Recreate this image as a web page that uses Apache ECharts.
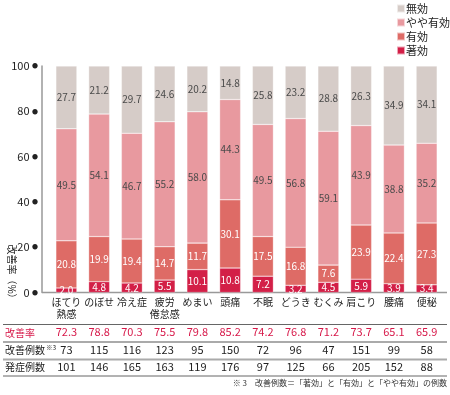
<!DOCTYPE html>
<html><head><meta charset="utf-8">
<script src="https://cdn.jsdelivr.net/npm/echarts@6/dist/echarts.min.js"></script>
<style>html,body{margin:0;padding:0;background:#fff}#c{width:450px;height:395px}</style>
</head><body><div id="c"></div>
<script>
const categories = ['ほてり\n熱感','のぼせ','冷え症','疲労\n倦怠感','めまい','頭痛','不眠','どうき','むくみ','肩こり','腰痛','便秘'];
const chokou = [2.0,4.8,4.2,5.5,10.1,10.8,7.2,3.2,4.5,5.9,3.9,3.4];
const yuukou = [20.8,19.9,19.4,14.7,11.7,30.1,17.5,16.8,7.6,23.9,22.4,27.3];
const yayaYuukou = [49.5,54.1,46.7,55.2,58.0,44.3,49.5,56.8,59.1,43.9,38.8,35.2];
const mukou = [27.7,21.2,29.7,24.6,20.2,14.8,25.8,23.2,28.8,26.3,34.9,34.1];
const kaizenRitsu = ['72.3','78.8','70.3','75.5','79.8','85.2','74.2','76.8','71.2','73.7','65.1','65.9'];
const kaizenCount = [73,115,116,123,95,150,72,96,47,151,99,58];
const hasshoCount = [101,146,165,163,119,176,97,125,66,205,152,88];
const seriesNames = ['著効','有効','やや有効','無効'];
const legendOrder = ['無効','やや有効','有効','著効'];
const rowLabels = ['改善率','改善例数{s|※3}','発症例数'];
const footnote = '※ 3　改善例数＝「著効」と「有効」と「やや有効」の例数';
const yName = '改善率（%）';

const FONT = "'Noto Sans CJK JP', 'Noto Sans', sans-serif";
const colors = ['#d31f47','#de6b66','#e8999f','#d6ccc8'];
const labelColors = ['#fff','#fff','#4a4a4a','#4a4a4a'];
const RED = '#d7194a';

const chart = echarts.init(document.getElementById('c'), null, {renderer:'canvas'});
const dataSets = [chokou, yuukou, yayaYuukou, mukou];

function rowAxis(offset, values, color) {
  return {
    type:'category', data:categories, gridIndex:0, position:'bottom', offset:offset,
    axisLine:{show:false}, axisTick:{show:false},
    axisLabel:{interval:0, margin:4, fontSize:11, color:color, fontFamily:FONT,
      formatter:(v,i)=>String(values[i])}
  };
}

const option = {
  animation:false,
  textStyle:{fontFamily:FONT},
  color:colors,
  grid:{left:50, top:66, width:393, height:226.5},
  legend:{
    data:legendOrder, orient:'vertical', left:396, top:3, padding:0,
    itemWidth:8, itemHeight:8, itemGap:3, icon:'rect',
    textStyle:{fontSize:11, color:'#222', fontFamily:FONT, padding:[0,0,0,-4]}
  },
  xAxis:[
    {type:'category', data:categories, axisLine:{show:false}, axisTick:{show:false},
     axisLabel:{interval:0, margin:4, fontSize:10, lineHeight:12, color:'#222', fontFamily:FONT}},
    rowAxis(30, kaizenRitsu, RED),
    rowAxis(47.5, kaizenCount, '#222'),
    rowAxis(64.5, hasshoCount, '#222')
  ],
  yAxis:{
    type:'value', min:0, max:100, interval:20, offset:8,
    axisLine:{show:true, lineStyle:{color:'#999', width:1.5}},
    axisTick:{show:false}, splitLine:{show:false},
    axisLabel:{margin:4, fontSize:11, color:'#222', fontFamily:FONT,
      formatter:v=>v+' {d|●}', rich:{d:{fontSize:6, color:'#222'}}}
  },
  series: seriesNames.map((n,k)=>({
    name:n, type:'bar', stack:'all', barWidth:21, data:dataSets[k],
    itemStyle:{color:colors[k], borderColor:'rgba(255,255,255,0.6)', borderWidth:0.5},
    label:{show:true, position:'inside', fontSize:10, color:labelColors[k], fontFamily:FONT,
      formatter:p=>Number(p.value).toFixed(1)}
  })),
  graphic:[
    {type:'line', shape:{x1:42,y1:292.5,x2:447,y2:292.5}, style:{stroke:'#999', lineWidth:1.5}},
    {type:'line', shape:{x1:3,y1:324.5,x2:447,y2:324.5}, style:{stroke:'#666', lineWidth:1}},
    {type:'line', shape:{x1:3,y1:342,x2:447,y2:342}, style:{stroke:'#aaa', lineWidth:2}},
    {type:'line', shape:{x1:3,y1:359.5,x2:447,y2:359.5}, style:{stroke:'#aaa', lineWidth:2}},
    {type:'line', shape:{x1:3,y1:376,x2:447,y2:376}, style:{stroke:'#666', lineWidth:1}},
    {type:'text', x:5, y:333, style:{text:rowLabels[0], fill:RED, fontSize:10, fontFamily:FONT, verticalAlign:'middle'}},
    {type:'text', x:5, y:350.5, style:{text:rowLabels[1], fill:'#222', fontSize:10, fontFamily:FONT, verticalAlign:'middle',
      rich:{s:{fontSize:6.5, fill:'#222', padding:[0,0,5,1], fontFamily:FONT}}}},
    {type:'text', x:5, y:367.5, style:{text:rowLabels[2], fill:'#222', fontSize:10, fontFamily:FONT, verticalAlign:'middle'}},
    {type:'text', x:447, y:383, style:{text:footnote, fill:'#333', fontSize:8, fontFamily:FONT, align:'right', verticalAlign:'middle'}},
    {type:'text', x:12, y:274, rotation:-Math.PI/2, style:{text:yName, fill:'#222', fontSize:10, fontFamily:FONT, align:'center', verticalAlign:'middle'}}
  ]
};
chart.setOption(option);
</script>
</body></html>
